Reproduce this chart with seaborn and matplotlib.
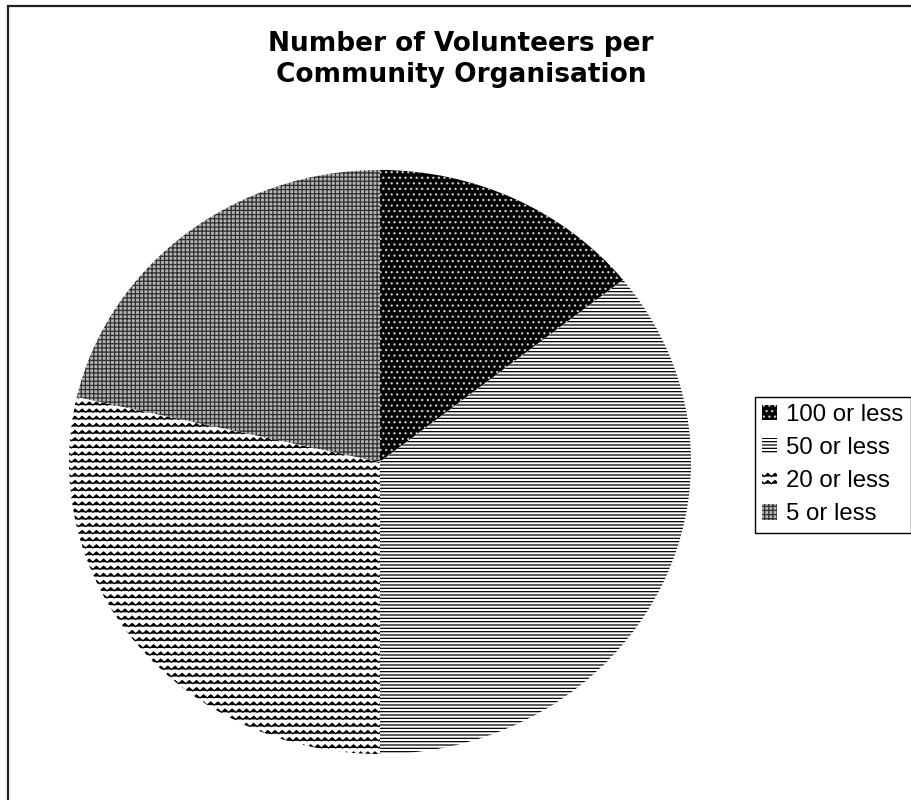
import numpy as np
import matplotlib
matplotlib.use("Agg")
import matplotlib.pyplot as plt
import matplotlib.hatch as mhatch
from matplotlib.path import Path
from matplotlib.patches import Rectangle
import seaborn as sns

# ---- data ----
categories = ["100 or less", "50 or less", "20 or less", "5 or less"]
counts = [2, 5, 4, 3]
title_text = "Number of Volunteers per\nCommunity Organisation"


# ---- custom zigzag hatch (replaces the '*' star hatch) ----
class ZigzagHatch(mhatch.HatchPatternBase):
    def __init__(self, hatch, density):
        n = hatch.count('*')
        self.rows = 7 * n
        self.teeth = 7 * n
        self.num_vertices = self.rows * (2 * self.teeth + 1)

    def set_vertices_and_codes(self, vertices, codes):
        per = 2 * self.teeth + 1
        xs = np.linspace(0, 1, per)
        amp = 0.22 / self.rows
        offs = np.where(np.arange(per) % 2 == 0, -amp, amp)
        for r in range(self.rows):
            y0 = (r + 0.5) / self.rows
            vertices[r * per:(r + 1) * per, 0] = xs
            vertices[r * per:(r + 1) * per, 1] = y0 + offs
            codes[r * per] = Path.MOVETO
            codes[r * per + 1:(r + 1) * per] = Path.LINETO


mhatch._hatch_types = [ZigzagHatch if t is mhatch.Stars else t
                       for t in mhatch._hatch_types]

sns.set_theme(style="white")
plt.rcParams["hatch.linewidth"] = 0.9

W, H = 912, 800
fig = plt.figure(figsize=(W / 100, H / 100), dpi=100)
fig.patch.set_facecolor("white")

cx, cy, rx, ry = 380, 462, 311, 292
ax = fig.add_axes([(cx - rx) / W, (H - cy - ry) / H, 2 * rx / W, 2 * ry / H])
wedges, _ = ax.pie(counts, startangle=90, counterclock=False, radius=1,
                   wedgeprops=dict(linewidth=0))
ax.set_aspect("auto")
ax.set_xlim(-1, 1)
ax.set_ylim(-1, 1)
ax.axis("off")

styles = [("black", "#c8c8c8", "..."),
          ("white", "black", "-----"),
          ("white", "black", "**"),
          ("#b4b4b4", "#303030", "++++")]
for w, (fc, hc, h) in zip(wedges, styles):
    w.set_facecolor(fc)
    w.set_edgecolor(hc)
    w.set_hatch(h)
    w.set_linewidth(0)

fig.text(461 / W, 1 - 31 / H, title_text, ha="center", va="top",
         fontsize=19, fontweight="bold", family="DejaVu Sans",
         linespacing=1.25, color="black")

leg = fig.legend(wedges, categories, loc="upper left",
                 bbox_to_anchor=(755 / W, 1 - 397 / H),
                 bbox_transform=fig.transFigure,
                 prop={"family": "Liberation Sans", "size": 17.3},
                 frameon=True, fancybox=False, edgecolor="black",
                 framealpha=1, borderpad=0.3, labelspacing=0.46,
                 handlelength=0.6, handleheight=0.6, handletextpad=0.4,
                 borderaxespad=0, labelcolor="black")
leg.get_frame().set_linewidth(1.0)

fig.add_artist(Rectangle((8.5 / W, -0.1), 1.2, 1.1 - 6.5 / H,
                         transform=fig.transFigure, fill=False,
                         edgecolor="#202020", linewidth=1.6))

fig.savefig("out.png", dpi=100)
